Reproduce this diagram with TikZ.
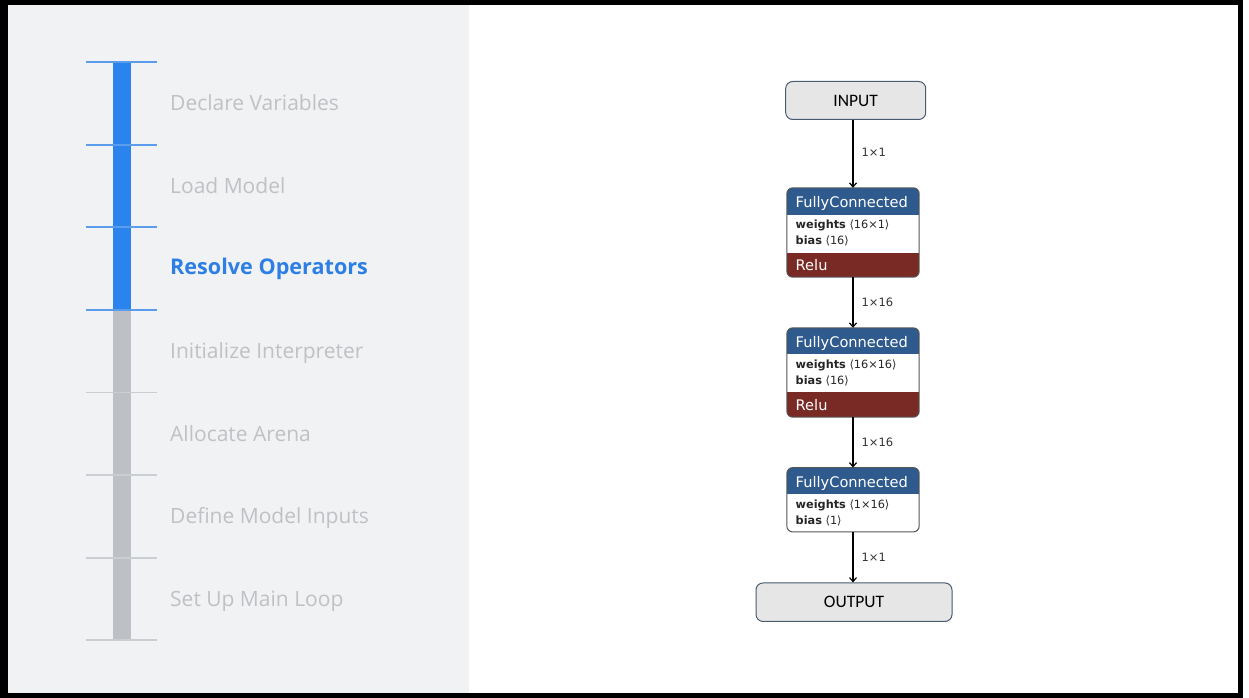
\documentclass[tikz,border=0pt]{standalone}
\usepackage{fontspec}
\setmainfont{Open Sans}
\newfontfamily\dvsans{DejaVu Sans}
\newfontfamily\carl{Carlito}
\usetikzlibrary{arrows.meta}
\definecolor{panel}{HTML}{F1F2F4}
\definecolor{bblue}{HTML}{2B84EE}
\definecolor{tblue}{HTML}{5C9CEC}
\definecolor{bgray}{HTML}{BDC1C6}
\definecolor{tgray}{HTML}{CACDD1}
\definecolor{lgray}{HTML}{BFC1C4}
\definecolor{sblue}{HTML}{2D7FE6}
\definecolor{hdr}{HTML}{2E5A8E}
\definecolor{relu}{HTML}{7A2A24}
\definecolor{boxline}{HTML}{555555}
\definecolor{ioline}{HTML}{4A5A70}
\definecolor{iofill}{HTML}{E6E6E6}
\tikzset{
  steplabel/.style={anchor=base west, inner sep=0, text=lgray, font=\fontsize{21}{24}\selectfont},
  stepcur/.style={anchor=base west, inner sep=0, text=sblue, font=\fontsize{21.6}{24}\selectfont\bfseries},
  fcshape/.style={rectangle, minimum width=132pt, inner sep=0},
  iobox/.style={rectangle, rounded corners=7pt, draw=ioline, line width=1pt, fill=iofill, inner sep=0, font=\carl\fontsize{17.5}{20}\selectfont},
  hdrtxt/.style={anchor=base west, inner sep=0, text=white, font=\dvsans\fontsize{14.6}{16}\selectfont},
  bodytxt/.style={anchor=base west, inner sep=0, text=black!85, font=\dvsans\fontsize{11.3}{13}\selectfont},
  arr/.style={-{Straight Barb[length=4pt,width=7pt]}, line width=1.2pt, black},
  elab/.style={anchor=west, inner sep=0, xshift=8pt, text=black!80, font=\dvsans\fontsize{11.5}{13}\selectfont}
}
\begin{document}
\begin{tikzpicture}[x=1pt,y=-1pt]
\useasboundingbox (0,0) rectangle (1249,698);
\fill[white] (0,0) rectangle (1249,698);
\fill[panel] (8,5) rectangle (469,693);
% frame
\fill[black] (0,0) rectangle (1243,5);
\fill[black] (0,0) rectangle (8,698);
\fill[black] (1238,0) rectangle (1243,698);
\fill[black] (0,693) rectangle (1243,698);
% timeline
\fill[bblue] (113,62) rectangle (131,310);
\fill[bgray] (113,310) rectangle (131,640);
\foreach \y in {62,144.6,227.2,309.8} \draw[tblue, line width=1.8pt] (86,\y) -- (157,\y);
\foreach \y in {392.4,475,557.6,640.2} \draw[tgray, line width=1.8pt] (86,\y) -- (157,\y);
\node[steplabel] (s1) at (170,110.5) {Declare Variables};
\node[steplabel] (s2) at (170,193) {Load Model};
\node[stepcur]   (s3) at (170,274.5) {Resolve Operators};
\node[steplabel] (s4) at (170,358.5) {Initialize Interpreter};
\node[steplabel] (s5) at (170,441) {Allocate Arena};
\node[steplabel] (s6) at (170,523.5) {Define Model Inputs};
\node[steplabel] (s7) at (170,606) {Set Up Main Loop};
% INPUT / OUTPUT
\node[iobox, minimum width=140pt, minimum height=38pt] (inp) at (855.7,100.5) {INPUT};
\node[iobox, minimum width=196pt, minimum height=38.5pt] (out) at (854,602.2) {OUTPUT};
% FC 1
\node[fcshape, minimum height=89pt] (fc1) at (853,232.5) {};
\begin{scope}
\clip[rounded corners=6pt] (fc1.north west) rectangle (fc1.south east);
\fill[white] (fc1.north west) rectangle (fc1.south east);
\fill[hdr] (fc1.north west) rectangle ++(132,27);
\fill[relu] (fc1.south west) rectangle ++(132,-24.5);
\end{scope}
\draw[boxline, line width=1pt, rounded corners=6pt] (fc1.north west) rectangle (fc1.south east);
\node[hdrtxt] (fc1h) at (795.5,207) {FullyConnected};
\node[bodytxt] (fc1w) at (795.5,228.5) {\bfseries weights\mdseries\ ⟨16×1⟩};
\node[bodytxt] (fc1b) at (795.5,244.5) {\bfseries bias\mdseries\ ⟨16⟩};
\node[hdrtxt] (fc1r) at (795.5,270.5) {Relu};
% FC 2
\node[fcshape, minimum height=89pt] (fc2) at (853,372.5) {};
\begin{scope}
\clip[rounded corners=6pt] (fc2.north west) rectangle (fc2.south east);
\fill[white] (fc2.north west) rectangle (fc2.south east);
\fill[hdr] (fc2.north west) rectangle ++(132,26);
\fill[relu] (fc2.south west) rectangle ++(132,-25.5);
\end{scope}
\draw[boxline, line width=1pt, rounded corners=6pt] (fc2.north west) rectangle (fc2.south east);
\node[hdrtxt] (fc2h) at (795.5,347) {FullyConnected};
\node[bodytxt] (fc2w) at (795.5,368.5) {\bfseries weights\mdseries\ ⟨16×16⟩};
\node[bodytxt] (fc2b) at (795.5,384.5) {\bfseries bias\mdseries\ ⟨16⟩};
\node[hdrtxt] (fc2r) at (795.5,410.5) {Relu};
% FC 3
\node[fcshape, minimum height=64pt] (fc3) at (853,499.75) {};
\begin{scope}
\clip[rounded corners=6pt] (fc3.north west) rectangle (fc3.south east);
\fill[white] (fc3.north west) rectangle (fc3.south east);
\fill[hdr] (fc3.north west) rectangle ++(132,26);
\end{scope}
\draw[boxline, line width=1pt, rounded corners=6pt] (fc3.north west) rectangle (fc3.south east);
\node[hdrtxt] (fc3h) at (795.5,487) {FullyConnected};
\node[bodytxt] (fc3w) at (795.5,508.5) {\bfseries weights\mdseries\ ⟨1×16⟩};
\node[bodytxt] (fc3b) at (795.5,524.5) {\bfseries bias\mdseries\ ⟨1⟩};
% arrows
\draw[arr] (inp.south -| fc1.north) -- (fc1.north) node[elab, pos=0.47] {1×1};
\draw[arr] (fc1.south) -- (fc2.north) node[elab, midway] {1×16};
\draw[arr] (fc2.south) -- (fc3.north) node[elab, midway] {1×16};
\draw[arr] (fc3.south) -- (out.north -| fc3.south) node[elab, midway] {1×1};
\end{tikzpicture}
\end{document}
